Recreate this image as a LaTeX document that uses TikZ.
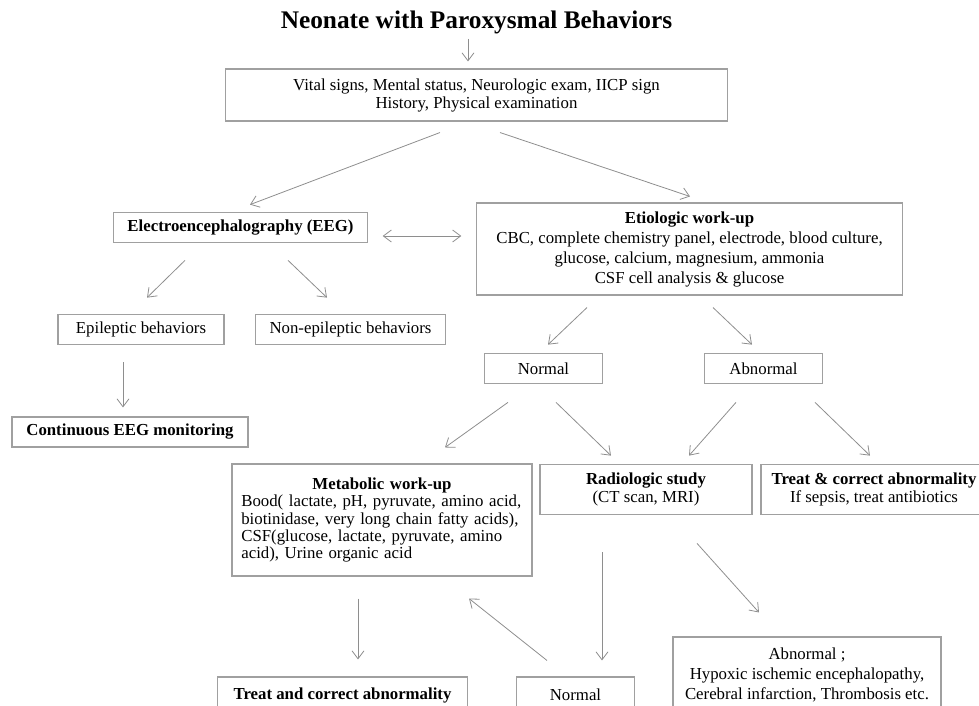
\documentclass[tikz,border=0pt]{standalone}
\usepackage{fontspec}
\setmainfont{Liberation Serif}
\usetikzlibrary{arrows.meta,calc}
\definecolor{boxgray}{HTML}{A0A0A0}
\definecolor{arrowgray}{HTML}{8E8E8E}

\begin{document}
\begin{tikzpicture}[x=0.75pt,y=-0.75pt]
  \useasboundingbox (0,0) rectangle (979,706);
  \node (title) [font=\fontsize{19}{21}\selectfont\bfseries,inner sep=0pt] at (476.5,22) {Neonate with Paroxysmal Behaviors};
  \begin{scope}[every node/.style={draw=boxgray,line width=0.8pt,fill=white,align=center,inner sep=2pt,font=\fontsize{12.6}{14}\selectfont}]
    \node (vital) [minimum width=377pt,minimum height=39pt,font=\fontsize{12.6}{13.5}\selectfont] at (476.5,95) {Vital signs, Mental status, Neurologic exam, IICP sign\\History, Physical examination};
    \node (eeg) [minimum width=190pt,minimum height=23pt] at (240.5,227.5) {\textbf{Electroencephalography (EEG)}};
    \node (etio) [minimum width=319pt,minimum height=69pt,font=\fontsize{12.6}{15}\selectfont] at (689.5,249) {\textbf{Etiologic work-up}\\CBC, complete chemistry panel, electrode, blood culture,\\glucose, calcium, magnesium, ammonia\\CSF cell analysis \& glucose};
    \node (epi) [minimum width=124.5pt,minimum height=23pt] at (141,329.5) {Epileptic behaviors};
    \node (nonepi) [minimum width=142pt,minimum height=23pt] at (350.5,329.5) {Non-epileptic behaviors};
    \node (ceeg) [minimum width=177pt,minimum height=22.5pt] at (130,432) {\textbf{Continuous EEG monitoring}};
    \node (normA) [minimum width=89pt,minimum height=23pt] at (543.5,368.5) {Normal};
    \node (abnA) [minimum width=89pt,minimum height=23pt] at (763.5,368.5) {Abnormal};
    \node (metab) [minimum height=84pt,text width=211pt,inner xsep=7pt,align=left,font=\fontsize{12.6}{12.8}\selectfont] at (382,520) {\makebox[211pt]{\textbf{Metabolic work-up}}\\Bood( lactate, pH, pyruvate, amino acid,\\biotinidase, very long chain fatty acids),\\CSF(glucose, lactate, pyruvate, amino\\acid), Urine organic acid};
    \node (radio) [minimum width=159pt,minimum height=38pt] at (646,489.5) {\textbf{Radiologic study}\\(CT scan, MRI)};
    \node (treatA) [minimum width=169.5pt,minimum height=38pt] at (874,489.5) {\textbf{Treat \& correct abnormality}\\If sepsis, treat antibiotics};
    \node (treatB) [minimum width=188pt,minimum height=27pt] at (342.5,695) {\textbf{Treat and correct abnormality}};
    \node (normB) [minimum width=88pt,minimum height=27pt] at (575.5,695) {Normal};
    \node (abnB) [minimum width=201pt,minimum height=57pt,font=\fontsize{12.6}{15}\selectfont] at (807,675) {Abnormal ;\\Hypoxic ischemic encephalopathy,\\Cerebral infarction, Thrombosis etc.};
  \end{scope}
  \begin{scope}[every edge/.style={draw=arrowgray,line width=0.6pt,-{Straight Barb[length=6pt,width=9pt]}}]
    \path ($(title.south)+(-8.5,5)$) edge ($(vital.north)+(-8.5,-7)$);
    \path ($(vital.south)+(-36.5,11)$) edge ($(eeg.north)+(9.5,-7)$);
    \path ($(vital.south)+(23.5,11)$) edge ($(etio.north)+(0.5,-6)$);
    \path ($(eeg.east)+(15,8.5)$) edge[{Straight Barb[length=6pt,width=9pt]}-{Straight Barb[length=6pt,width=9pt]}] ($(etio.west)+(-15,-13)$);
    \path ($(eeg.south)+(-55.5,17)$) edge ($(epi.north)+(6,-16)$);
    \path ($(eeg.south)+(47.5,17)$) edge ($(nonepi.north)+(-23.5,-16)$);
    \path ($(epi.south)+(-18,17)$) edge ($(ceeg.north)+(-7,-9)$);
    \path ($(etio.south)+(-102.5,12)$) edge ($(normA.north)+(4.5,-8)$);
    \path ($(etio.south)+(23.5,12)$) edge ($(abnA.north)+(-11.5,-8)$);
    \path ($(normA.south)+(-35.5,18)$) edge ($(metab.north)+(63,-16)$);
    \path ($(normA.south)+(12.5,18)$) edge ($(radio.north)+(-35,-8)$);
    \path ($(abnA.south)+(-27.5,18)$) edge ($(radio.north)+(43,-8)$);
    \path ($(abnA.south)+(51.5,18)$) edge ($(treatA.north)+(-4,-8)$);
    \path ($(metab.south)+(-24,22)$) edge ($(treatB.north)+(15.5,-17)$);
    \path ($(normB.north)+(-28.5,-16)$) edge ($(metab.south)+(87,22)$);
    \path ($(radio.south)+(-44,37)$) edge ($(normB.north)+(26.5,-16)$);
    \path ($(radio.south)+(51,28)$) edge ($(abnB.north)+(-48,-24)$);
  \end{scope}
\end{tikzpicture}
\end{document}
